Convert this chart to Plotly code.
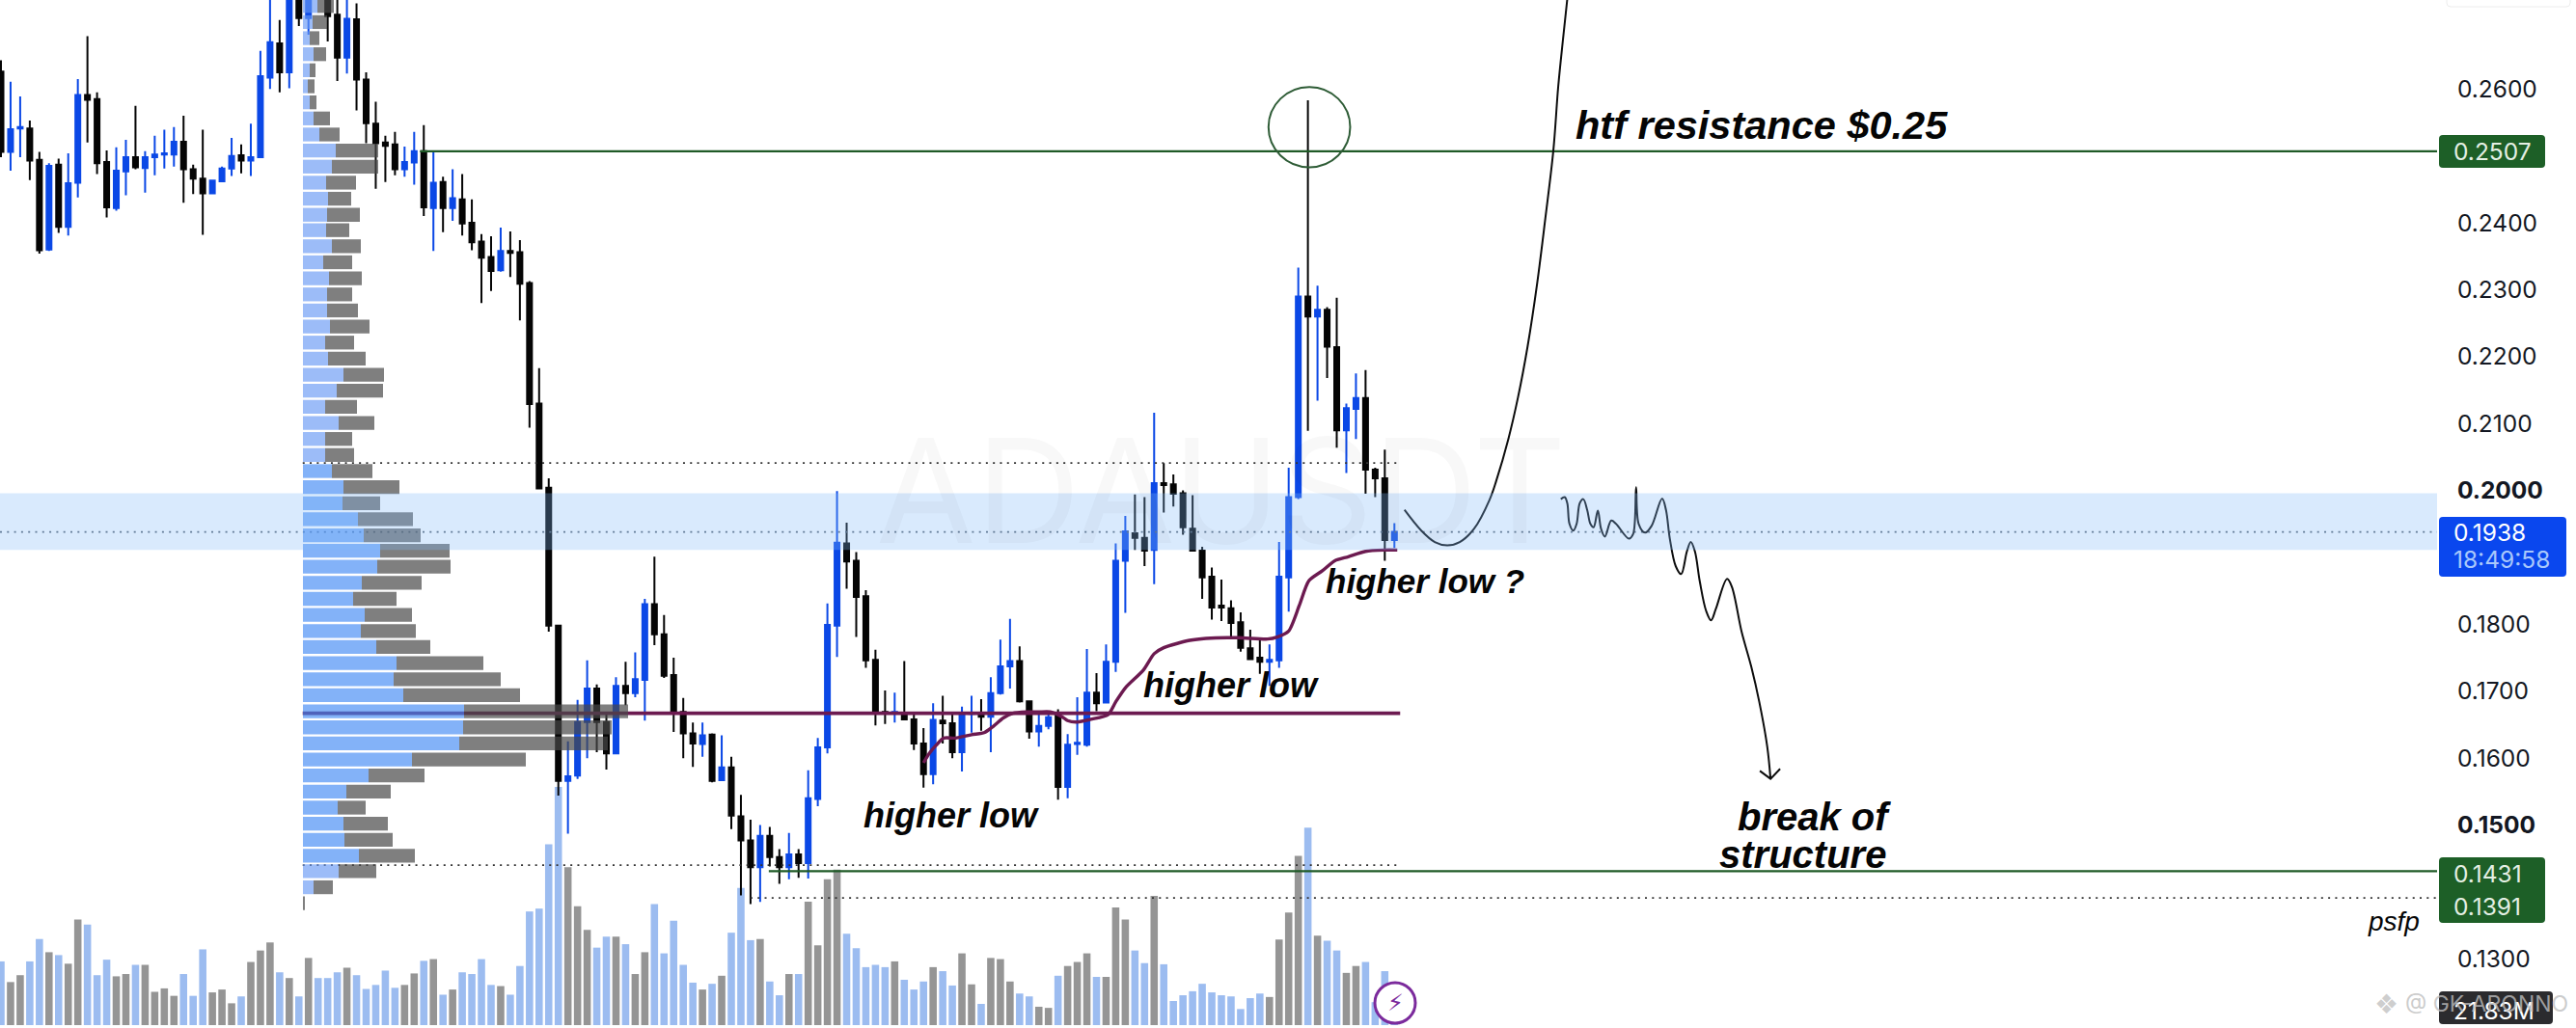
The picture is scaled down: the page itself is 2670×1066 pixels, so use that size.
import plotly.graph_objects as go

W, H, PLOT_R = 2670, 1066, 2526
# ---------- OHLC ----------
opens = [.2626,.2506,.2541,.2541,.2494,.2360,.2487,.2394,.2460,.2591,.2585,.2491,.2422,.2477,.2498,.2482,.2498,.2502,.2502,.2521,.2480,.2466,.2444,.2462,.2481,.2501,.2493,.2498,.2617,.2668,.2625,.2770,.2706,.2790,.2770,.2711,.2647,.2704,.2614,.2548,.2520,.2517,.2480,.2490,.2507,.2422,.2461,.2422,.2435,.2400,.2372,.2349,.2329,.2358,.2356,.2310,.2130,.2004,.1798,.1566,.1574,.1654,.1704,.1654,.1607,.1708,.1697,.1717,.1830,.1785,.1724,.1669,.1637,.1621,.1635,.1567,.1586,.1513,.1477,.1437,.1484,.1452,.1437,.1456,.1443,.1539,.1616,.1798,.1921,.1895,.1842,.1747,.1669,.1668,.1665,.1658,.1622,.1576,.1656,.1652,.1609,.1666,.1666,.1662,.1697,.1737,.1745,.1685,.1640,.1648,.1665,.1557,.1621,.1620,.1698,.1683,.1744,.1895,.1936,.1929,.1911,.2011,.2009,.1996,.1943,.1910,.1871,.1828,.1824,.1803,.1764,.1750,.1744,.1746,.1870,.1990,.2290,.2260,.2270,.2214,.2090,.2122,.2138,.2031,.2018,.1926]
highs = [.2643,.2611,.2589,.2553,.2506,.2489,.2496,.2504,.2615,.2679,.2595,.2508,.2513,.2524,.2575,.2507,.2530,.2539,.2543,.2560,.2487,.2539,.2463,.2484,.2527,.2517,.2548,.2657,.2760,.2703,.2790,.2800,.2790,.2810,.2790,.2760,.2745,.2728,.2625,.2581,.2530,.2536,.2514,.2536,.2546,.2507,.2469,.2480,.2473,.2435,.2383,.2380,.2393,.2387,.2374,.2313,.2183,.2018,.1798,.1625,.1687,.1746,.1710,.1666,.1721,.1744,.1758,.1838,.1901,.1814,.1750,.1690,.1653,.1653,.1637,.1634,.1602,.1545,.1508,.1500,.1497,.1464,.1488,.1464,.1582,.1630,.1831,.1999,.1952,.1908,.1851,.1762,.1701,.1698,.1745,.1665,.1645,.1682,.1693,.1667,.1677,.1693,.1688,.1721,.1777,.1808,.1767,.1686,.1665,.1665,.1673,.1636,.1691,.1763,.1727,.1770,.1921,.1962,.1994,.1990,.2116,.2041,.2024,.2000,.1993,.1916,.1885,.1867,.1836,.1818,.1792,.1777,.1770,.1923,.2034,.2333,.2583,.2306,.2274,.2288,.2130,.2175,.2180,.2034,.2061,.1951]
lows = [.2498,.2478,.2498,.2464,.2354,.2358,.2385,.2381,.2438,.2520,.2473,.2408,.2418,.2441,.2480,.2445,.2471,.2481,.2484,.2430,.2443,.2382,.2444,.2461,.2470,.2474,.2470,.2497,.2600,.2595,.2601,.2694,.2681,.2745,.2671,.2612,.2623,.2568,.2519,.2451,.2461,.2471,.2469,.2457,.2410,.2358,.2386,.2403,.2381,.2359,.2280,.2298,.2327,.2319,.2254,.2094,.2002,.1789,.1544,.1487,.1569,.1600,.1609,.1583,.1607,.1679,.1691,.1656,.1769,.1720,.1639,.1600,.1587,.1602,.1564,.1567,.1494,.1395,.1382,.1385,.1438,.1412,.1419,.1421,.1420,.1528,.1607,.1751,.1853,.1781,.1735,.1649,.1651,.1653,.1658,.1612,.1556,.1561,.1622,.1600,.1580,.1638,.1641,.1609,.1695,.1704,.1683,.1629,.1617,.1643,.1538,.1540,.1605,.1617,.1670,.1683,.1729,.1817,.1911,.1887,.1860,.1967,.1976,.1934,.1909,.1838,.1807,.1805,.1780,.1759,.1747,.1726,.1708,.1735,.1819,.1987,.2089,.2134,.2168,.2064,.2026,.2077,.1995,.1990,.1895,.1914]
closes = [.2506,.2540,.2543,.2493,.2359,.2485,.2394,.2459,.2591,.2584,.2489,.2423,.2478,.2498,.2483,.2498,.2502,.2504,.2521,.2480,.2466,.2444,.2463,.2481,.2500,.2493,.2498,.2619,.2670,.2625,.2770,.2706,.2765,.2760,.2709,.2647,.2705,.2614,.2549,.2519,.2515,.2480,.2491,.2507,.2423,.2460,.2422,.2437,.2399,.2371,.2348,.2328,.2358,.2355,.2309,.2129,.2003,.1798,.1566,.1573,.1654,.1704,.1654,.1607,.1708,.1697,.1718,.1830,.1785,.1723,.1671,.1637,.1622,.1634,.1566,.1586,.1514,.1477,.1437,.1484,.1452,.1437,.1456,.1443,.1540,.1616,.1799,.1922,.1894,.1841,.1746,.1669,.1668,.1669,.1658,.1622,.1576,.1657,.1652,.1609,.1667,.1667,.1662,.1697,.1737,.1745,.1685,.1640,.1648,.1661,.1557,.1620,.1623,.1698,.1682,.1744,.1895,.1939,.1929,.1910,.2011,.2008,.1995,.1945,.1910,.1870,.1825,.1825,.1802,.1765,.1748,.1744,.1747,.1871,.1990,.2290,.2260,.2270,.2215,.2090,.2123,.2138,.2031,.2018,.1926,.1938]
bar_index = list(range(len(opens)))

# ---------- volume (millions) and side colour ----------
volumes = [111,75,87,111,150,127,122,107,184,175,87,114,85,89,105,105,58,64,51,89,51,132,57,62,38,50,110,130,144,92,82,50,117,82,82,92,100,87,63,70,95,65,70,90,112,115,53,62,92,89,115,70,68,53,103,198,203,315,415,275,207,166,135,154,154,141,89,127,211,125,182,105,74,62,72,86,161,239,148,150,76,52,89,89,215,139,254,271,159,134,101,105,101,111,79,62,76,101,94,69,125,71,37,117,115,76,55,50,32,30,86,103,110,125,84,84,205,184,130,108,225,106,42,52,59,72,57,52,50,28,47,55,49,149,196,295,344,156,147,130,91,103,110,40,94,22]
volume_side = list("bggbbgbggb" "bbggbggggb" "bbgggbgggb" "gbgbbbgbbb" "bbggbgbgbb" "bbgbbbbbbg" "ggbbgbggbb"
                   "bbbgbgbbbg" "bbgbggggbb" "bbbgbbbgbb" "ggbgggbbgg" "bgggbgggbb" "gbbbbbbbbb" "bbggggbgbb" "ggbbbb")

# ---------- volume profile, bottom row first ----------
profile_price = [.1383,.1407,.1431,.1454,.1478,.1502,.1526,.1550,.1574,.1598,.1622,.1646,.1670,.1694,.1718,.1742,.1766,.1790,.1814,.1838,.1862,.1886,.1910,.1933,.1957,.1981,.2005,.2029,.2053,.2077,.2101,.2125,.2149,.2173,.2197,.2221,.2245,.2269,.2293,.2317,.2341,.2365,.2389,.2412,.2436,.2460,.2484,.2508,.2532,.2556,.2580,.2604,.2628,.2652,.2676,.2700,.2724]
profile_buy = [0,11,37,58,43,42,36,45,68,113,162,166,167,104,94,97,76,60,64,52,61,77,80,63,57,41,42,30,23,23,37,23,35,42,26,23,28,25,25,27,21,30,24,25,26,24,30,34,17,11,7,5,7,11,7,10,15]
profile_sell = [2,20,39,58,50,46,29,46,58,118,154,154,170,121,111,90,56,57,49,45,62,76,72,59,57,39,58,42,30,28,37,33,48,42,39,30,41,32,26,34,30,30,24,34,24,31,48,44,21,17,7,7,6,13,10,15,17]
profile_in_value_area = [0,0,0,1,1,1,1,1,1,1,1,1,1,1,1,1,1,1,1,1,1,1,1,1,1,1,1,1,0,0,0,0,0,0,0,0,0,0,0,0,0,0,0,0,0,0,0,0,0,0,0,0,0,0,0,0,0]

# ---------- tick labels ----------
tick_vals = [.26,.24,.23,.22,.21,.20,.18,.17,.16,.15,.13]
tick_text = ["0.2600","0.2400","0.2300","0.2200","0.2100","<b>0.2000</b>","0.1800","0.1700","0.1600","<b>0.1500</b>","0.1300"]

# ---------- drawn lines (bar index, price) ----------
ma_x = [96.0,96.6,97.3,98.1,99.3,101,102.3,103.3,104.3,105.3,106.7,108,109.2,110.4,111,112,113.4,115.2,116,117,118.9,120,121,123.7,125.4,128.7,131.8,132.8,134,135.1,136.1,137.5,138.8,140.2,142,143.9,145.3]
ma_y = [.1593,.1607,.1619,.1630,.1630,.1635,.1638,.1648,.1660,.1667,.1669,.1669,.1669,.1662,.1656,.1654,.1658,.1665,.1684,.1705,.1732,.1756,.1765,.1776,.1779,.1780,.1778,.1781,.1790,.1828,.1865,.1880,.1895,.1901,.1909,.1911,.1911]
up_x = [146.05,147.8,149.2,150.5,151.8,153.3,154.9,155.59,156.86,157.86,158.87,159.87,160.71,161.54,162.05,162.55,162.98]
up_y = [.1971,.1940,.1923,.1918,.1923,.1943,.1986,.2014,.2077,.2139,.2216,.2311,.2407,.2508,.2604,.2675,.2733]
down_x = [162.32,162.72,162.99,163.22,163.62,163.96,164.29,164.66,165.06,165.40,165.73,166.17,166.50,166.90,167.57,168.07,169.41,169.85,170.15,170.42,171.09,171.76,172.86,173.26,173.66,174.27,174.84,175.44,175.84,176.27,176.78,177.44,177.95,178.45,179.62,180.12,181.13,182.13,182.97,183.80,184.14]
down_y = [.1987,.1990,.1981,.1950,.1940,.1950,.1981,.1987,.1971,.1950,.1945,.1970,.1943,.1931,.1955,.1950,.1928,.1935,.2005,.1950,.1937,.1947,.1988,.1971,.1928,.1887,.1875,.1909,.1923,.1909,.1864,.1820,.1806,.1823,.1868,.1856,.1789,.1737,.1684,.1617,.1569]
arrow_x = [183.03,184.14,185.14]
arrow_y = [.1581,.1569,.1584]

X_MIN, X_MAX = -0.1, 253.5
Y_MIN, Y_MAX = .1201, .2733
GREEN, PURPLE, BLUE = "#1f5a27", "#6c1a50", "#0b48e6"

fig = go.Figure()
fig.add_bar(x=bar_index, y=volumes, width=0.76, xaxis="x", yaxis="y", hoverinfo="skip",
            marker=dict(color=["#9cbcf0" if s == "b" else "#959595" for s in volume_side], line_width=0))

def hline(y, x0, x1, color, width, dash="solid"):
    fig.add_scatter(x=[x0, x1], y=[y, y], xaxis="x", yaxis="y2", mode="lines", hoverinfo="skip",
                    line=dict(color=color, width=width, dash=dash))

fig.add_candlestick(x=bar_index, open=opens, high=highs, low=lows, close=closes, xaxis="x", yaxis="y2",
                    whiskerwidth=0, hoverinfo="skip",
                    increasing=dict(line=dict(color=BLUE, width=2), fillcolor=BLUE),
                    decreasing=dict(line=dict(color="#050505", width=2), fillcolor="#050505"))
DOT = "2px,5.3px"
hline(.1938, X_MIN, X_MAX, "#55606e", 1.6, DOT)
hline(.2041, 31.4, 145.6, "#333333", 1.6, DOT)
hline(.1440, 31.4, 145.6, "#333333", 1.6, DOT)
hline(.1391, 78, X_MAX, "#333333", 1.6, DOT)
hline(.2507, 43.6, X_MAX, GREEN, 2.2)
hline(.1431, 79.9, X_MAX, GREEN, 2.2)
hline(.1667, 31.4, 145.6, PURPLE, 3.6)
fig.add_scatter(x=ma_x, y=ma_y, xaxis="x", yaxis="y2", mode="lines", hoverinfo="skip",
                line=dict(color=PURPLE, width=3.4, shape="spline", smoothing=0.7))
for xs, ys, shp in [(up_x, up_y, "spline"), (down_x, down_y, "spline"), (arrow_x, arrow_y, "linear")]:
    fig.add_scatter(x=xs, y=ys, xaxis="x", yaxis="y2", mode="lines", hoverinfo="skip",
                    line=dict(color="#0c0c0c", width=2, shape=shp))

# profile on its own horizontal scale, over the candles
fig.add_bar(y=profile_price, x=profile_buy, base=0, orientation="h", width=.00206, xaxis="x2", yaxis="y2",
            hoverinfo="skip", marker=dict(line_width=0, color=["rgba(64,137,244,.65)" if v else "rgba(103,152,244,.65)" for v in profile_in_value_area]))
fig.add_bar(y=profile_price, x=profile_sell, base=profile_buy, orientation="h", width=.00206, xaxis="x2", yaxis="y2",
            hoverinfo="skip", marker=dict(line_width=0, color="rgba(73,73,73,.7)"))

def px(x): return x / W
def py(y): return 1 - y / H

def rrect(x0, y0, x1, y1, color, r=4, line=None):
    a, b, c, d = px(x0), py(y0), px(x1), py(y1)
    rx, ry = r / W, r / H
    path = (f"M{a},{b - ry} Q{a},{b} {a + rx},{b} L{c - rx},{b} Q{c},{b} {c},{b - ry} "
            f"L{c},{d + ry} Q{c},{d} {c - rx},{d} L{a + rx},{d} Q{a},{d} {a},{d + ry} Z")
    return dict(type="path", path=path, xref="paper", yref="paper", fillcolor=color,
                line=dict(width=1 if line else 0, color=line or color), layer="above")

shapes = [
    dict(type="rect", xref="paper", yref="y2", x0=0, x1=px(PLOT_R), y0=.1911, y1=.1996,
         fillcolor="rgba(130,185,250,.3)", line_width=0, layer="above"),
    dict(type="circle", xref="x", yref="y2", x0=131.9, x1=140.4, y0=.2483, y1=.2603,
         line=dict(color="#2e5c36", width=2), layer="above"),
    rrect(2528, 140, 2638, 174, "#1d5f27"),
    rrect(2528, 536, 2660, 598, "#0a47ee"),
    rrect(2528, 889, 2638, 957, "#1d5f27"),
    rrect(2528, 1028, 2646, 1062, "#2b2b2e"),
    rrect(2536, -10, 2664, 7, "#ffffff", line="#ececec"),
    dict(type="circle", xref="paper", yref="paper", x0=px(1425), x1=px(1467), y0=py(1061), y1=py(1019),
         fillcolor="white", line=dict(color="#7b2a9c", width=3), layer="above"),
]

anns = []
def note(x, y, text, size, color="#050505", font="Liberation Sans", anchor="left", ref=True):
    anns.append(dict(x=x, y=y, xref="x" if ref else "paper", yref="y2" if ref else "paper", text=text, showarrow=False,
                     xanchor=anchor, yanchor="middle", font=dict(size=size, color=color, family=font), borderpad=0))

note(127.0, .2000, "ADAUSDT", 150, "rgba(19,23,34,.03)", "Inter", "center")
note(163.7, .2546, "<b><i>htf resistance $0.25</i></b>", 41.5)
note(137.7, .1864, "<b><i>higher low ?</i></b>", 35)
note(118.8, .1709, "<b><i>higher low</i></b>", 36)
note(89.7, .1514, "<b><i>higher low</i></b>", 36)
note(180.6, .1512, "<b><i>break of</i></b>", 40)
note(178.7, .1456, "<b><i>structure</i></b>", 40)
note(246.2, .1356, "<i>psfp</i>", 28)

AX = "Inter"
for y, t, c in [(157, "0.2507", "#e4efe4"), (552, "0.1938", "#ffffff"), (580, "18:49:58", "#a9c8fb"),
                (906, "0.1431", "#e4efe4"), (940, "0.1391", "#e4efe4"), (1048, "21.83M", "#ffffff")]:
    note(px(2542), py(y), t, 24.5, c, AX, ref=False)
note(px(2460), py(1041), "❖", 28, "rgba(190,190,190,.75)", "DejaVu Sans", ref=False)
note(px(2492), py(1041), "@ GK-ARONNO", 23, "rgba(190,190,190,.8)", AX, ref=False)
note(px(1446), py(1040), "⚡", 24, "#7b2a9c", "DejaVu Sans", "center", ref=False)

fig.update_layout(
    width=W, height=H, margin=dict(l=0, r=0, t=0, b=0), paper_bgcolor="white", plot_bgcolor="white",
    showlegend=False, barmode="overlay", boxgap=0.28, hovermode=False, shapes=shapes, annotations=anns,
    xaxis=dict(domain=[0, PLOT_R / W], range=[X_MIN, X_MAX], visible=False, rangeslider=dict(visible=False), anchor="y2"),
    xaxis2=dict(domain=[0, PLOT_R / W], range=[-314, PLOT_R - 314], overlaying="x", visible=False, anchor="y2"),
    yaxis=dict(domain=[3 / H, 1], range=[0, 1786], visible=False, anchor="x"),
    yaxis2=dict(domain=[0, 1], range=[Y_MIN, Y_MAX], overlaying="y", anchor="x", side="right", showgrid=False,
                zeroline=False, showline=False, tickvals=tick_vals, ticktext=tick_text, ticks="outside", ticklen=15,
                tickcolor="rgba(0,0,0,0)", tickfont=dict(family=AX, size=24.5, color="#131722")),
)
fig.write_html("out.html", config=dict(displayModeBar=False),
               post_script="document.body.style.margin='0';document.body.style.overflow='hidden';")
